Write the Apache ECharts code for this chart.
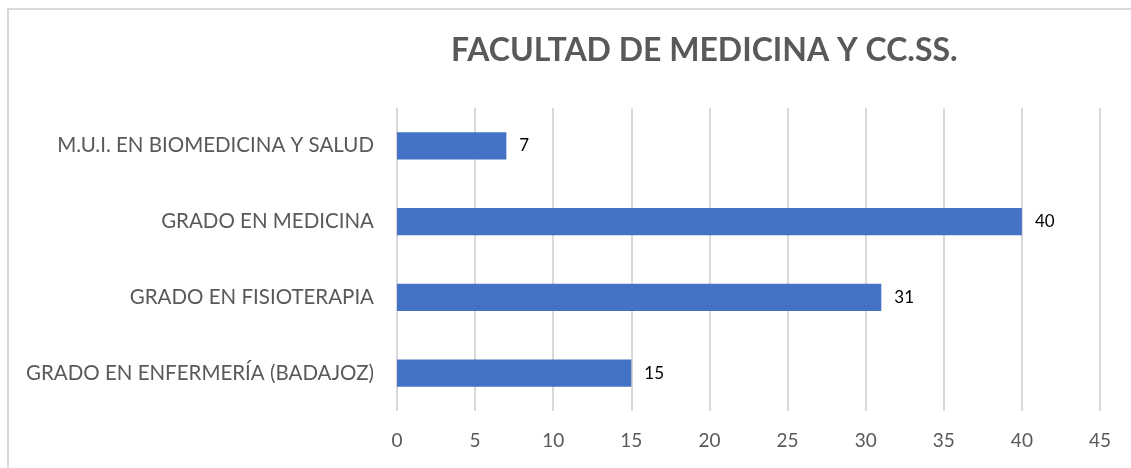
<!DOCTYPE html>
<html>
<head>
<meta charset="utf-8">
<script src="https://cdn.jsdelivr.net/npm/echarts@6/dist/echarts.min.js"></script>
<style>
  html, body { margin: 0; padding: 0; background: #fff; }
  #chart { width: 1131px; height: 468px; }
</style>
</head>
<body>
<div id="chart"></div>
<script>
// data, bottom to top as drawn on the axis
const categories = [
  'GRADO EN ENFERMERÍA (BADAJOZ)',
  'GRADO EN FISIOTERAPIA',
  'GRADO EN MEDICINA',
  'M.U.I. EN BIOMEDICINA Y SALUD'
]
const values = [15, 31, 40, 7]
const titleText = 'FACULTAD DE MEDICINA Y CC.SS.'

const chart = echarts.init(document.getElementById('chart'))
const font = 'Lato, "Open Sans", sans-serif'

const option = {
  animation: false,
  backgroundColor: '#fff',
  title: {
    text: titleText,
    left: 446,
    top: 30,
    textStyle: {
      color: '#595959',
      fontSize: 32,
      fontWeight: 'bold',
      fontFamily: font
    }
  },
  graphic: [
    {
      type: 'rect',
      silent: true,
      shape: { x: 8, y: 9, width: 1150, height: 520 },
      style: { fill: 'none', stroke: '#d9d9d9', lineWidth: 2 }
    }
  ],
  grid: {
    left: 397,
    right: 31,
    top: 108,
    bottom: 57
  },
  xAxis: {
    type: 'value',
    min: 0,
    max: 45,
    interval: 5,
    axisLine: { show: false },
    axisTick: { show: false },
    axisLabel: {
      color: '#595959',
      fontSize: 19,
      fontFamily: font,
      margin: 20
    },
    splitLine: {
      lineStyle: { color: '#d9d9d9', width: 2 }
    }
  },
  yAxis: {
    type: 'category',
    data: categories,
    axisLine: { show: false },
    axisTick: { show: false },
    axisLabel: {
      color: '#595959',
      fontSize: 20.5,
      fontFamily: font,
      margin: 23
    }
  },
  series: [
    {
      type: 'bar',
      data: values,
      barWidth: '36%',
      itemStyle: { color: '#4472c4' },
      label: {
        show: true,
        position: 'right',
        distance: 13,
        color: '#000',
        fontSize: 17,
        fontFamily: font
      }
    }
  ]
}
chart.setOption(option)
</script>
</body>
</html>
